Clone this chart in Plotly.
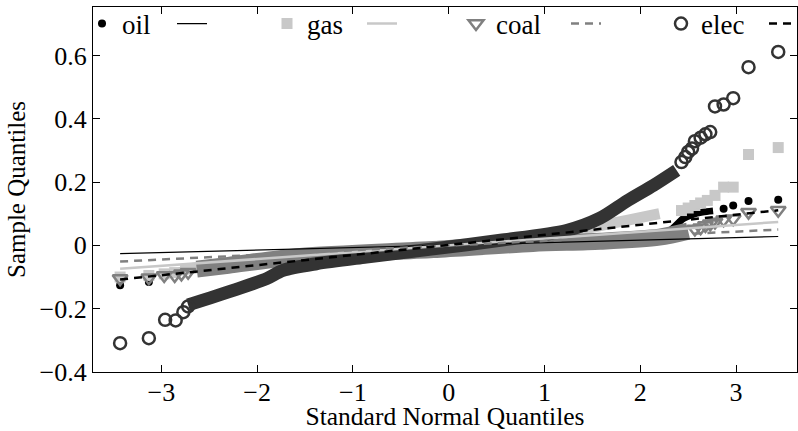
import plotly.graph_objects as go

# ---------------- data ----------------
# oil
oil_body_x = [-2.97, -2.7, -2.3, -1.55, -0.16, 0.88, 1.58, 2.0, 2.3, 2.45, 2.55, 2.65, 2.76]
oil_body_y = [-0.092, -0.075, -0.060, -0.035, -0.012, 0.006, 0.013, 0.022, 0.045, 0.085, 0.098, 0.105, 0.109]
oil_tail_x = [-3.43, -3.13, 2.87, 2.97, 3.13, 3.44]
oil_tail_y = [-0.126, -0.116, 0.116, 0.126, 0.140, 0.144]
oil_ref_x = [-3.43, 3.44]
oil_ref_y = [-0.026, 0.028]

# gas
gas_body_x = [-2.8, -2.5, -2.0, -1.5, -1.0, -0.5, 0.0, 0.5, 1.0, 1.16, 1.51, 1.86, 2.2]
gas_body_y = [-0.078, -0.066, -0.050, -0.035, -0.022, -0.010, 0.0, 0.012, 0.028, 0.037, 0.058, 0.079, 0.100]
gas_tail_x = [-3.43, -3.13, -2.97, -2.86, 2.43, 2.50, 2.57, 2.63, 2.70, 2.78, 2.87, 2.97, 3.13, 3.44]
gas_tail_y = [-0.100, -0.095, -0.090, -0.086, 0.110, 0.118, 0.126, 0.134, 0.142, 0.158, 0.184, 0.184, 0.287, 0.309]
gas_ref_x = [-3.43, 3.44]
gas_ref_y = [-0.074, 0.074]

# coal
coal_body_x = [-2.63, -2.3, -1.55, -0.16, 0.88, 1.58, 2.2, 2.5]
coal_body_y = [-0.075, -0.063, -0.035, -0.013, 0.006, 0.013, 0.026, 0.045]
coal_tail_x = [-3.43, -3.13, -2.97, -2.86, -2.79, -2.72, 2.57, 2.63, 2.68, 2.73, 2.78, 2.87, 2.97, 3.13, 3.44]
coal_tail_y = [-0.105, -0.102, -0.095, -0.095, -0.090, -0.085, 0.052, 0.056, 0.063, 0.068, 0.074, 0.081, 0.084, 0.105, 0.111]
coal_ref_x = [-3.43, 3.44]
coal_ref_y = [-0.051, 0.050]

# elec
elec_body_x = [-2.72, -2.25, -1.90, -1.73, -1.38, -0.86, -0.16, 0.54, 1.23, 1.58, 1.86, 2.14, 2.38]
elec_body_y = [-0.188, -0.142, -0.105, -0.079, -0.058, -0.037, -0.011, 0.016, 0.047, 0.086, 0.140, 0.190, 0.237]
elec_tail_x = [-3.43, -3.13, -2.96, -2.85, -2.77, -2.72, 2.43, 2.47, 2.50, 2.54, 2.57, 2.63, 2.68, 2.73, 2.78, 2.87, 2.97, 3.13, 3.44]
elec_tail_y = [-0.309, -0.293, -0.235, -0.237, -0.211, -0.193, 0.263, 0.279, 0.295, 0.306, 0.329, 0.340, 0.351, 0.358, 0.439, 0.445, 0.465, 0.563, 0.611]
elec_ref_x = [-3.43, 3.44]
elec_ref_y = [-0.108, 0.111]

series_names = ["oil", "gas", "coal", "elec"]
x_tickvals = [-3, -2, -1, 0, 1, 2, 3]
x_ticktext = ["\u22123", "\u22122", "\u22121", "0", "1", "2", "3"]
y_tickvals = [-0.4, -0.2, 0, 0.2, 0.4, 0.6]
y_ticktext = ["\u22120.4", "\u22120.2", "0", "0.2", "0.4", "0.6"]

# ---------------- styles ----------------
FONT = "Liberation Serif, Times New Roman, serif"
C_OIL, C_GAS, C_COAL, C_ELEC = "#000000", "#c8c8c8", "#808080", "#333333"

fig = go.Figure()

series = [
    ("oil", oil_body_x, oil_body_y, oil_tail_x, oil_tail_y, C_OIL, 7,
     dict(symbol="circle", size=8, color=C_OIL)),
    ("gas", gas_body_x, gas_body_y, gas_tail_x, gas_tail_y, C_GAS, 11,
     dict(symbol="square", size=11, color=C_GAS)),
    ("coal", coal_body_x, coal_body_y, coal_tail_x, coal_tail_y, C_COAL, 17,
     dict(symbol="triangle-down-open", size=13, color=C_COAL, line=dict(width=2.5, color=C_COAL))),
    ("elec", elec_body_x, elec_body_y, elec_tail_x, elec_tail_y, C_ELEC, 13,
     dict(symbol="circle-open", size=12, color=C_ELEC, line=dict(width=2.5, color=C_ELEC))),
]

legend_ids = {"oil": ("legend", "legend2"), "gas": ("legend3", "legend4"),
              "coal": ("legend5", "legend6"), "elec": ("legend7", "legend8")}

for name, bx, by, tx, ty, col, bw, mk in series:
    fig.add_trace(go.Scatter(x=bx, y=by, mode="lines", showlegend=False,
                             line=dict(color=col, width=bw, shape="spline", smoothing=0.8),
                             hoverinfo="skip"))
    fig.add_trace(go.Scatter(x=tx, y=ty, mode="markers", name=name, marker=mk,
                             legend=legend_ids[name][0]))

refs = [
    ("oil", oil_ref_x, oil_ref_y, dict(color=C_OIL, width=1.2)),
    ("gas", gas_ref_x, gas_ref_y, dict(color=C_GAS, width=2.5)),
    ("coal", coal_ref_x, coal_ref_y, dict(color=C_COAL, width=2.5, dash="8px,6px")),
    ("elec", elec_ref_x, elec_ref_y, dict(color="#000000", width=2.5, dash="8px,6px")),
]
for name, rx, ry, ln in refs:
    fig.add_trace(go.Scatter(x=rx, y=ry, mode="lines", name=" ", line=ln,
                             legend=legend_ids[name][1]))

# legend placement (paper fractions)
L, R, T, B = 93, 1, 7, 59
W = 798 - L - R
H = 431 - T - B
def px_x(p):
    return (p - L) / W
ly = (431 - B - 24) / H
leg_common = dict(bgcolor="rgba(0,0,0,0)", borderwidth=0, font=dict(family=FONT, size=27, color="black"),
                  xanchor="left", yanchor="middle", y=ly, orientation="h", itemsizing="trace",
                  tracegroupgap=0)
origins = {"legend": 82, "legend2": 172, "legend3": 267, "legend4": 362,
           "legend5": 456, "legend6": 566, "legend7": 661, "legend8": 764}
leg_layout = {k: dict(leg_common, x=px_x(v)) for k, v in origins.items()}

fig.update_layout(
    width=798, height=431,
    margin=dict(l=L, r=R, t=T, b=B, autoexpand=False),
    paper_bgcolor="white", plot_bgcolor="white",
    font=dict(family=FONT, size=26, color="black"),
    showlegend=True,
    **leg_layout,
)
fig.update_xaxes(range=[-3.713, 3.636], tickvals=x_tickvals, ticktext=x_ticktext,
                 ticks="inside", ticklen=7, tickwidth=1, tickcolor="black",
                 showline=True, linecolor="black", linewidth=1.3, mirror="ticks",
                 showgrid=False, zeroline=False, ticklabelstandoff=-3,
                 tickfont=dict(family=FONT, size=26),
                 title=dict(text="Standard Normal Quantiles", font=dict(family=FONT, size=25.5), standoff=0))
fig.update_yaxes(range=[-0.4, 0.753], tickvals=y_tickvals, ticktext=y_ticktext,
                 ticks="inside", ticklen=7, tickwidth=1, tickcolor="black",
                 showline=True, linecolor="black", linewidth=1.3, mirror="ticks",
                 showgrid=False, zeroline=False,
                 tickfont=dict(family=FONT, size=26),
                 title=dict(text="Sample Quantiles", font=dict(family=FONT, size=25), standoff=6))

fig.write_html("out.html")
